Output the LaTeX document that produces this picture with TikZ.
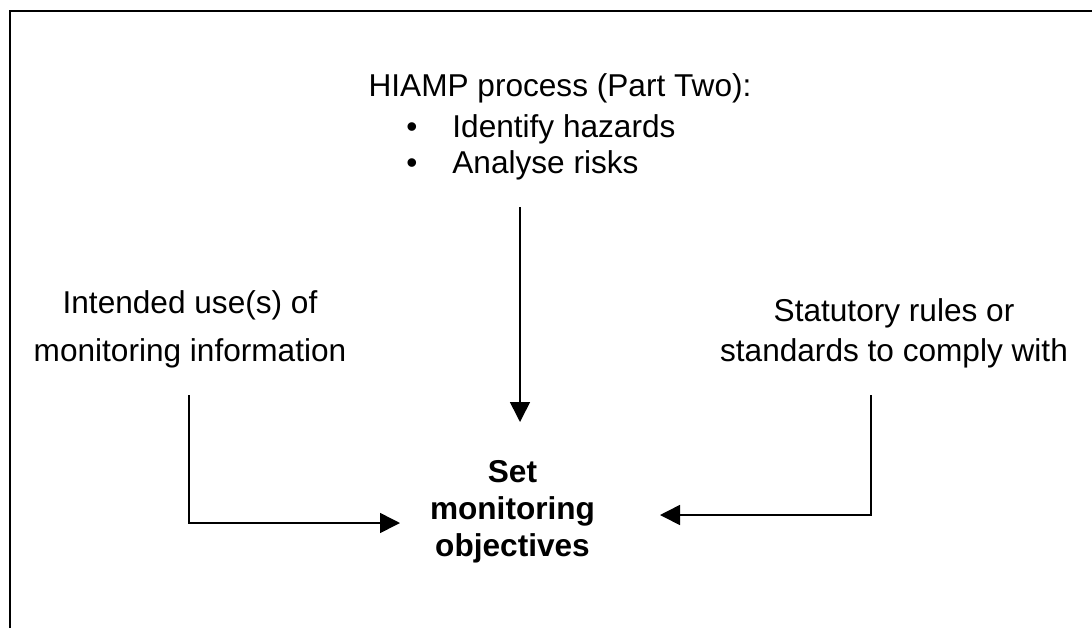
\documentclass[tikz,border=0pt]{standalone}
\usepackage{fontspec}
\setmainfont{Liberation Sans}
\usetikzlibrary{arrows.meta}
\begin{document}
\begin{tikzpicture}[x=0.5pt,y=-0.5pt,
  txt/.style={inner sep=0pt,font=\fontsize{15.8}{19}\selectfont},
  btxt/.style={inner sep=0pt,font=\fontsize{15.8}{19}\selectfont\bfseries},
  frame/.style={line width=1pt},
  arr/.style={line width=0.8pt,-{Triangle[length=10pt,width=10pt]}}]
\useasboundingbox (0,0) rectangle (1092,628);
\draw[frame] (9.5,628) -- (9.5,11) -- (1092,11);
% top block
\node[txt,anchor=base] (hiamp) at (560,96) {HIAMP process (Part Two):};
\node[txt,anchor=base] (bul1) at (412,137) {•};
\node[txt,anchor=base west] (haz) at (452,137) {Identify hazards};
\node[txt,anchor=base] (bul2) at (412,173) {•};
\node[txt,anchor=base west] (risk) at (452,173) {Analyse risks};
% left block
\node[txt,anchor=base] (use1) at (190,313) {Intended use(s) of};
\node[txt,anchor=base] (use2) at (190,361) {monitoring information};
% right block
\node[txt,anchor=base] (stat1) at (894,321) {Statutory rules or};
\node[txt,anchor=base] (stat2) at (894,361) {standards to comply with};
% centre goal
\node[btxt,anchor=base] (goal1) at (512.5,482) {Set};
\node[btxt,anchor=base] (goal2) at (512.5,519) {monitoring};
\node[btxt,anchor=base] (goal3) at (512.5,556) {objectives};
% connectors
\coordinate (vtop) at (520,207);
\coordinate (vtip) at (520,422);
\coordinate (ltop) at (189,395);
\coordinate (ltip) at (400,523);
\coordinate (rtop) at (871,395);
\coordinate (rtip) at (660,515);
\draw[arr] (vtop) -- (vtip);
\draw[arr] (ltop) |- (ltip);
\draw[arr] (rtop) |- (rtip);
\end{tikzpicture}
\end{document}
